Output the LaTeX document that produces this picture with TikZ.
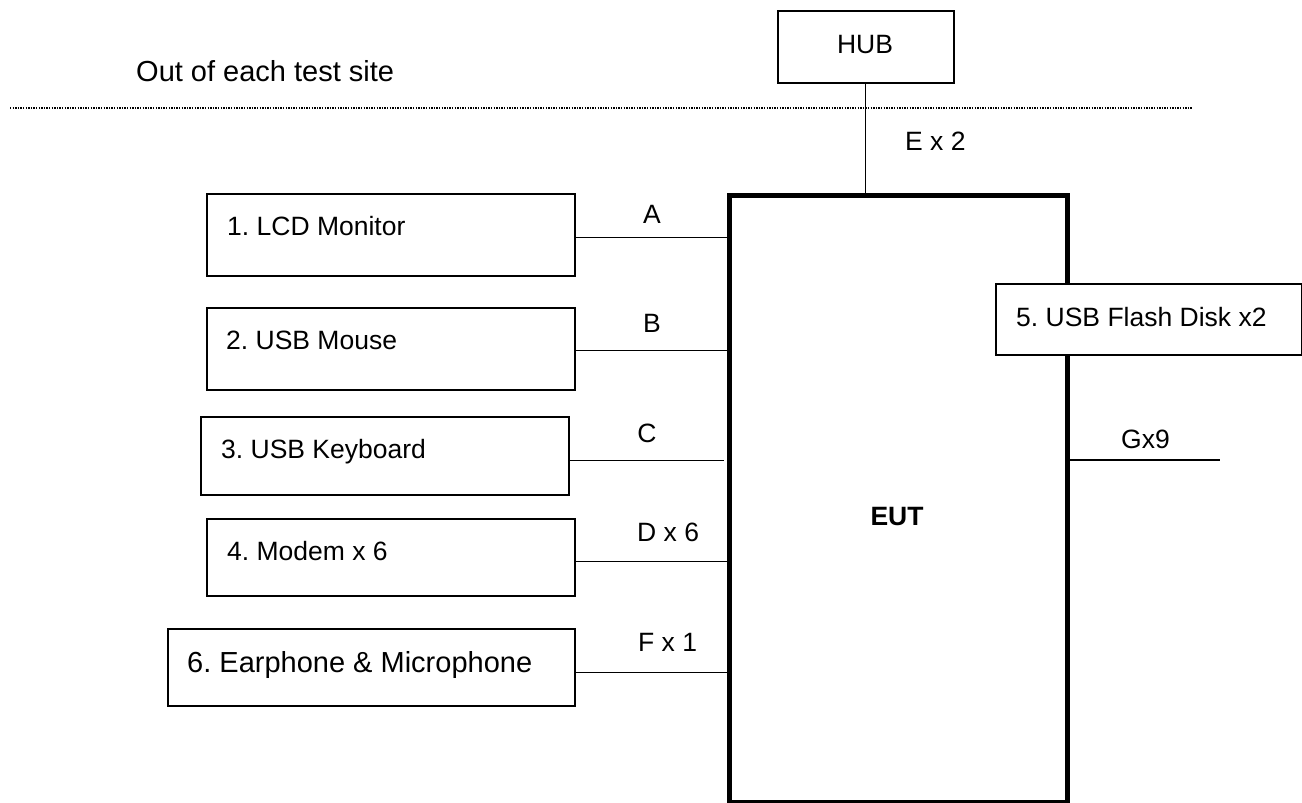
\documentclass[tikz,border=0pt]{standalone}
\usepackage{fontspec}
\setmainfont{Liberation Sans}
\frenchspacing
\begin{document}
\begin{tikzpicture}[x=1pt,y=-1pt,
  txt/.style={inner sep=0pt,anchor=base west,font=\fontsize{26.5}{30}\selectfont},
  ctxt/.style={inner sep=0pt,anchor=base,font=\fontsize{26.5}{30}\selectfont},
  box/.style={draw,line width=1.5pt,rectangle,inner sep=0pt,fill=white},
  wire/.style={line width=1.4pt}]
\useasboundingbox (0,0) rectangle (1302,803);
% boxes
\node[box,minimum width=176pt,minimum height=72pt,anchor=north west] (hub) at (777,10) {};
\node[box,minimum width=368pt,minimum height=82pt,anchor=north west] (lcd) at (206,193) {};
\node[box,minimum width=368pt,minimum height=82pt,anchor=north west] (mouse) at (206,307) {};
\node[box,minimum width=368pt,minimum height=78pt,anchor=north west] (kbd) at (200,416) {};
\node[box,minimum width=368pt,minimum height=77pt,anchor=north west] (modem) at (206,518) {};
\node[box,minimum width=407pt,minimum height=77pt,anchor=north west] (ear) at (167,628) {};
\node[draw,line width=5pt,rectangle,inner sep=0pt,minimum width=338pt,minimum height=607pt,anchor=north west] (eut) at (727,193) {};
\node[box,minimum width=306pt,minimum height=71pt,anchor=north west] (flash) at (995,283) {};
% texts
\node[txt,font=\fontsize{29}{33}\selectfont] (out) at (136,81) {Out of each test site};
\node[ctxt] (hubt) at (865,53) {HUB};
\node[txt] (lcdt) at (227,235) {1. LCD Monitor};
\node[txt] (mouset) at (226,349) {2. USB Mouse};
\node[txt] (kbdt) at (221,458) {3. USB Keyboard};
\node[txt] (modemt) at (227,560) {4. Modem x 6};
\node[txt,font=\fontsize{29}{33}\selectfont] (eart) at (187,672) {6. Earphone \& Microphone};
\node[txt] (flasht) at (1016,326) {5. USB Flash Disk x2};
\node[ctxt,font=\fontsize{26.5}{30}\selectfont\bfseries] (eutt) at (897,525) {EUT};
% connector labels
\node[ctxt] (la) at (652,223) {A};
\node[ctxt] (lb) at (652,332) {B};
\node[ctxt] (lc) at (647,442) {C};
\node[txt] (ld) at (637,541) {D x 6};
\node[txt] (lf) at (638,651) {F x 1};
\node[txt] (le) at (905,150) {E x 2};
\node[txt] (lg) at (1121,448) {Gx9};
% dotted boundary
\coordinate (dl) at (10,108);
\coordinate (dr) at (1192,108);
\draw[line width=1.3pt,dash pattern=on 1.3pt off 1.3pt] (dl) -- (dr);
% connectors
\draw[wire] (hub.south) -- (hub.south |- eut.north);
\draw[wire] ([yshift=-3pt]lcd.east) -- ([yshift=-3pt]lcd.east -| eut.west);
\draw[wire] ([yshift=-2pt]mouse.east) -- ([yshift=-2pt]mouse.east -| eut.west);
\draw[wire] ([yshift=-5pt]kbd.east) -- ([yshift=-5pt,xshift=-3pt]kbd.east -| eut.west);
\draw[wire] ([yshift=-4.5pt]modem.east) -- ([yshift=-4.5pt]modem.east -| eut.west);
\draw[wire] ([yshift=-5.5pt]ear.east) -- ([yshift=-5.5pt]ear.east -| eut.west);
\coordinate (gend) at (1220,460);
\draw[wire] (gend -| eut.east) -- (gend);
\end{tikzpicture}
\end{document}
